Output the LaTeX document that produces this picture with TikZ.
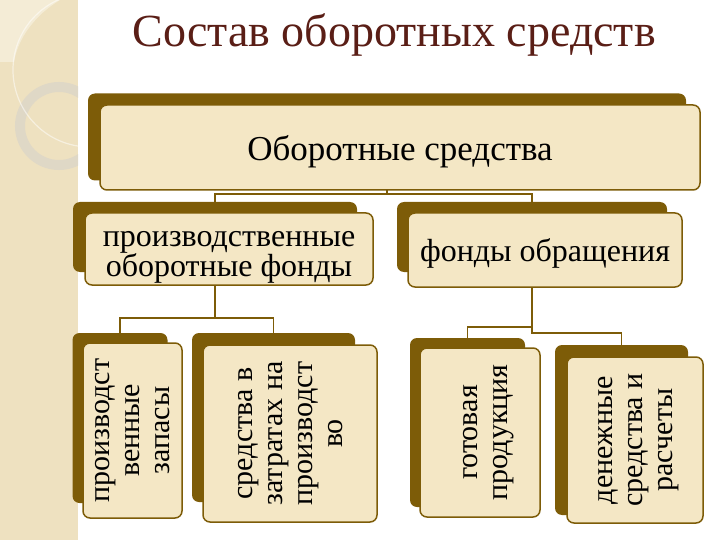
\documentclass[tikz,border=0pt]{standalone}
\usepackage{fontspec}
\setmainfont{Liberation Serif}
\usetikzlibrary{calc}
\usetikzlibrary{backgrounds}
\definecolor{boxbrown}{HTML}{7D5C08}
\definecolor{boxcream}{HTML}{F4E7C5}
\definecolor{titlebrown}{HTML}{5A1E16}
\definecolor{stripbeige}{HTML}{EEE1C0}
\definecolor{ringgrey}{HTML}{DFD8C6}
\definecolor{paneltint}{HTML}{F4ECD6}
\newcommand{\topgap}{\rule{0pt}{25pt}}
\tikzset{shadebox/.style={shape=rectangle, rounded corners=7pt, fill=boxbrown, inner sep=0pt},
  frontbox/.style={shape=rectangle, rounded corners=7pt, draw=boxbrown, line width=1.5pt, fill=boxcream, inner sep=2pt, align=center, text depth=-5pt, font=\fontsize{30}{30}\selectfont},
  midfont/.style={font=\fontsize{32}{28}\selectfont},
  conn/.style={draw=boxbrown, line width=1.8pt}}

\begin{document}
\begin{tikzpicture}[x=1pt, y=-1pt]
    \useasboundingbox (0,0) rectangle (720,540);
    % left strip
    \fill[stripbeige] (0,0) rectangle (78,540);
    \begin{scope}
      \clip (0,0) rectangle (78,540);
      \fill[paneltint] (0,0) -- (60,0) .. controls (35,15) and (18,38) .. (14,62) -- (0,62) -- cycle;
      \draw[ringgrey, line width=10pt] (59,126) circle (39);
      \draw[white, line width=1.2pt, opacity=0.5] (90,70) circle (77);
    \end{scope}

    \node[text=titlebrown, font=\fontsize{46}{46}\selectfont, anchor=base] (title) at (394,47) {Состав оборотных средств};

    \node[shadebox, minimum width=598, minimum height=87] (main-sh) at (387,137) {};
    \node[frontbox, minimum width=600, minimum height=85, font=\fontsize{35}{35}\selectfont] (main) at (400,147.5) {Оборотные средства};

    \node[shadebox, minimum width=284, minimum height=70] (prod-sh) at (215,237) {};
    \node[frontbox, midfont, minimum width=288, minimum height=72] (prod) at (229,249) {\topgap производственные\\оборотные фонды};

    \node[shadebox, minimum width=270, minimum height=70] (circ-sh) at (532,237) {};
    \node[frontbox, midfont, minimum width=274, minimum height=74] (circ) at (545,250) {фонды обращения};

    \node[shadebox, minimum width=95, minimum height=170] (stock-sh) at (120,418) {};
    \node[frontbox, rotate=90, minimum width=175, minimum height=99] (stock) at (132.5,430.5) {производст\\венные\\запасы};

    \node[shadebox, minimum width=163, minimum height=169] (cost-sh) at (273.5,417.5) {};
    \node[frontbox, rotate=90, minimum width=177, minimum height=174] (cost) at (290,433.5) {средства в\\затратах на\\производст\\во};

    \node[shadebox, minimum width=115, minimum height=169] (goods-sh) at (467.5,422.5) {};
    \node[frontbox, rotate=90, minimum width=169, minimum height=120] (goods) at (480,432.5) {\topgap готовая\\продукция};

    \node[shadebox, minimum width=133, minimum height=170] (cash-sh) at (621.5,430) {};
    \node[frontbox, rotate=90, minimum width=166, minimum height=136] (cash) at (635,440) {денежные\\средства и\\расчеты};

    % connectors
    \begin{scope}[on background layer]
      \draw[conn] (main-sh.south) -- ++(0,13) -| (prod-sh.north);
      \draw[conn] (main-sh.south) -- ++(0,13) -| (circ-sh.north);
      \draw[conn] (prod-sh.south) -- ++(0,46) -| (stock-sh.north);
      \draw[conn] (prod-sh.south) -- ++(0,46) -| (cost-sh.north);
      \draw[conn] (circ-sh.south) -- ++(0,55) -| (goods-sh.north);
      \draw[conn] (circ-sh.south) -- ++(0,61) -| (cash-sh.north);
    \end{scope}
\end{tikzpicture}
\end{document}
